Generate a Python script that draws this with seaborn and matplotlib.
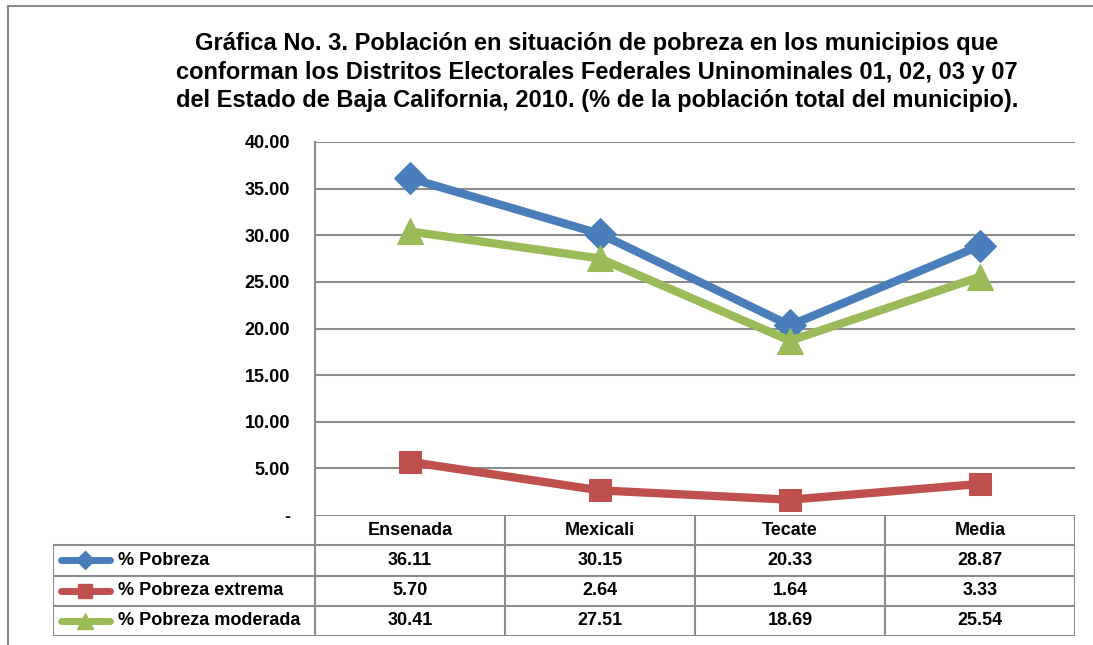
import numpy as np
import pandas as pd
import matplotlib
matplotlib.use('Agg')
import matplotlib.pyplot as plt
import seaborn as sns
from matplotlib.lines import Line2D

sns.set_style('white')
plt.rcParams['font.family'] = ['Liberation Sans', 'DejaVu Sans']
plt.rcParams['font.weight'] = 'bold'
plt.rcParams['text.color'] = 'black'
plt.rcParams['ytick.color'] = 'black'

# Data
municipios = ['Ensenada', 'Mexicali', 'Tecate', 'Media']
pobreza = [36.11, 30.15, 20.33, 28.87]
pobreza_extrema = [5.70, 2.64, 1.64, 3.33]
pobreza_moderada = [30.41, 27.51, 18.69, 25.54]
series_names = ['% Pobreza', '% Pobreza extrema', '% Pobreza moderada']
series_vals = [pobreza, pobreza_extrema, pobreza_moderada]
yticks = [0, 5, 10, 15, 20, 25, 30, 35, 40]
ytick_labels = ['-', '5.00', '10.00', '15.00', '20.00', '25.00', '30.00', '35.00', '40.00']

colors = ['#4A7EBB', '#C0504D', '#9BBB59']
markers = ['D', 's', '^']
msizes = [16, 16, 19]
grid_col = '#8c8c8c'

df = pd.DataFrame({
    'Municipio': municipios * 3,
    'Serie': np.repeat(series_names, len(municipios)),
    'Valor': pobreza + pobreza_extrema + pobreza_moderada,
})
df['x'] = np.tile(np.arange(len(municipios)), 3)

W, H = 1093, 645
fig = plt.figure(figsize=(W / 100, H / 100), dpi=100)

def fx(px):
    return px / W

def fy(py):
    return 1 - py / H

# outer frame
fig.add_artist(Line2D([fx(8), fx(8)], [fy(6), 0], color='#8c8c8c', lw=1.5, transform=fig.transFigure))
fig.add_artist(Line2D([fx(8), 1], [fy(6), fy(6)], color='#8c8c8c', lw=1.5, transform=fig.transFigure))

# title
fig.text(fx(597), fy(72),
         'Gráfica No. 3. Población en situación de pobreza en los municipios que\n'
         'conforman los Distritos Electorales Federales Uninominales 01, 02, 03 y 07\n'
         'del Estado de Baja California, 2010. (% de la población total del municipio).',
         ha='center', va='center', fontsize=17, fontweight='bold', linespacing=1.3)

# main axes
x0, x1, ytop, ybot = 315, 1075, 142, 515
ax = fig.add_axes([fx(x0), fy(ybot), fx(x1 - x0), (ybot - ytop) / H])
for i, name in enumerate(series_names):
    sub = df[df['Serie'] == name]
    sns.lineplot(data=sub, x='x', y='Valor', ax=ax, color=colors[i], lw=6,
                 marker=markers[i], markersize=msizes[i], markeredgecolor=colors[i],
                 legend=False, zorder=3 + i * 0.1)
ax.set_xlim(-0.5, len(municipios) - 0.5)
ax.set_ylim(0, 40)
ax.set_yticks(yticks)
ax.set_yticklabels(ytick_labels, fontsize=13, fontweight='bold')
ax.set_xticks([])
ax.set_xlabel('')
ax.set_ylabel('')
ax.tick_params(axis='y', length=0, pad=18)
for y in yticks[1:]:
    ax.axhline(y, color=grid_col, lw=1.5, zorder=1)
for s in ['top', 'right', 'bottom']:
    ax.spines[s].set_visible(False)
ax.spines['left'].set_color(grid_col)
ax.spines['left'].set_linewidth(1.5)
ax.patch.set_alpha(0)

# data table below
tx0, tbot = 53, 636
col_w = (x1 - x0) / len(municipios)
left_lim = -0.5 - (x0 - tx0) / col_w
tax = fig.add_axes([fx(tx0), fy(tbot), fx(x1 - tx0), (tbot - ybot) / H])
tax.set_xlim(left_lim, len(municipios) - 0.5)
tax.set_ylim(4, 0)
tax.axis('off')
lc = dict(color=grid_col, lw=1.5, solid_capstyle='projecting')
tax.plot([-0.5, len(municipios) - 0.5], [0, 0], **lc)
for r in range(1, 5):
    tax.plot([left_lim, len(municipios) - 0.5], [r, r], **lc)
tax.plot([left_lim, left_lim], [1, 4], **lc)
for c in range(len(municipios) + 1):
    tax.plot([c - 0.5, c - 0.5], [0, 4], **lc)
for j, m in enumerate(municipios):
    tax.text(j, 0.5, m, ha='center', va='center', fontsize=13, fontweight='bold')
for i, (name, vals) in enumerate(zip(series_names, series_vals)):
    r = i + 1.5
    for j, v in enumerate(vals):
        tax.text(j, r, f'{v:.2f}', ha='center', va='center', fontsize=13, fontweight='bold')
    # legend key
    tax.plot([left_lim + 0.04, left_lim + 0.3], [r, r], color=colors[i], lw=5,
             solid_capstyle='round')
    tax.plot([left_lim + 0.17], [r], marker=markers[i], color=colors[i],
             markersize=msizes[i] * 0.6)
    tax.text(left_lim + 0.34, r, name, ha='left', va='center', fontsize=13, fontweight='bold')

fig.savefig('out.png', dpi=100)
